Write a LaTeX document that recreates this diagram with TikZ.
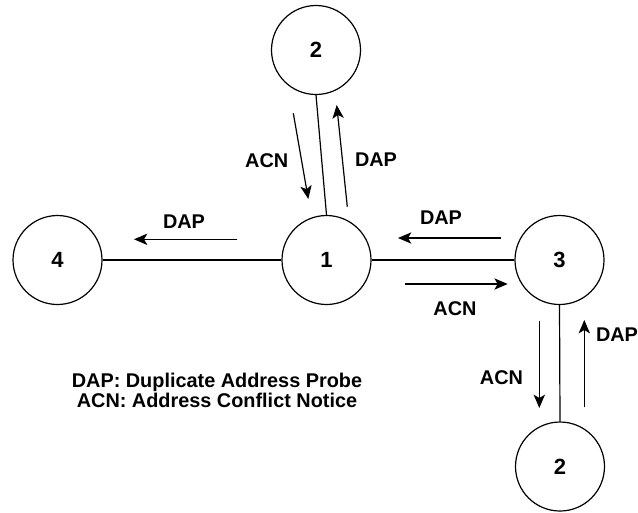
\documentclass[tikz,border=0pt]{standalone}
\usepackage{fontspec}
\setmainfont{Liberation Sans}
\usetikzlibrary{arrows.meta}

\begin{document}
\begin{tikzpicture}[x=0.75pt,y=-0.75pt,
    host/.style={circle,draw,line width=0.9pt,minimum size=66.75pt,inner sep=0pt,font=\fontsize{16.5}{18}\selectfont\bfseries},
    link/.style={line width=0.9pt},
    msg/.style={line width=0.9pt,-{Stealth[length=10pt,width=8.5pt,inset=2.5pt]}},
    tag/.style={inner sep=0pt,font=\fontsize{14.9}{15.2}\selectfont\bfseries}]
    \useasboundingbox (0,0) rectangle (638,512);

    \node[host] (T) at (316,50) {2};
    \node[host] (O) at (326.5,260) {1};
    \node[host] (F) at (57.5,260) {4};
    \node[host] (H) at (559.5,260) {3};
    \node[host] (B) at (560,466.5) {2};

    \draw[link] (T.south) -- (O.north);
    \draw[link] (F) -- (O);
    \draw[link] (O) -- (H);
    \draw[link] (H.south) -- (B.north);

    \coordinate (dapF1) at (237,239.3);
    \coordinate (dapF2) at (134,239.3);
    \coordinate (dapH1) at (500.7,238);
    \coordinate (dapH2) at (398,238);
    \coordinate (acnO1) at (405,284);
    \coordinate (acnO2) at (507.7,284);
    \coordinate (acnT1) at (293.3,113.3);
    \coordinate (acnT2) at (308.3,199);
    \coordinate (dapT1) at (347.3,206.7);
    \coordinate (dapT2) at (336.7,105);
    \coordinate (acnB1) at (539.3,320.7);
    \coordinate (acnB2) at (539.3,408);
    \coordinate (dapB1) at (584.3,407);
    \coordinate (dapB2) at (584.3,320);

    \draw[msg] (dapF1) -- (dapF2);
    \draw[msg] (dapH1) -- (dapH2);
    \draw[msg] (acnO1) -- (acnO2);
    \draw[msg] (acnT1) -- (acnT2);
    \draw[msg] (dapT1) -- (dapT2);
    \draw[msg] (acnB1) -- (acnB2);
    \draw[msg] (dapB1) -- (dapB2);

    \node[tag] (lF) at (184,221.5) {DAP};
    \node[tag] (lH) at (441,217.5) {DAP};
    \node[tag] (lO) at (455,309) {ACN};
    \node[tag] (lTa) at (266.7,160.5) {ACN};
    \node[tag] (lTd) at (376,159.5) {DAP};
    \node[tag] (lBa) at (501.5,378) {ACN};
    \node[tag] (lBd) at (617,335) {DAP};

    \node[tag,align=center] (key) at (217,390.5) {DAP: Duplicate Address Probe\\ACN: Address Conflict Notice};
\end{tikzpicture}
\end{document}
